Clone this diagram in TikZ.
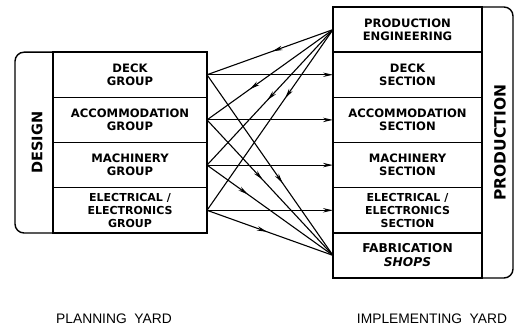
\documentclass[tikz,border=0pt]{standalone}
\usepackage{fontspec}
\setmainfont{DejaVu Sans}
\newfontfamily\yardfont{Liberation Sans}
\usetikzlibrary{arrows.meta,decorations.markings}
\begin{document}
\begin{tikzpicture}[x=1pt,y=-1pt,
  box/.style={line width=1.4pt},
  lcell/.style={draw, line width=1.4pt, minimum width=154pt, minimum height=45.17pt, inner sep=0pt, outer sep=0pt, align=center, font=\bfseries\fontsize{11.6}{13}\selectfont},
  rcell/.style={lcell, minimum width=149pt},
  conn/.style={line width=1.1pt},
  tip/.style={-{Stealth[length=10pt,width=4.4pt]}},
  midarrow/.style={postaction={decorate},decoration={markings,mark=at position #1 with {\arrow{Stealth[length=10pt,width=4.4pt]}}}},
  sidelabel/.style={font=\bfseries\fontsize{14.5}{16}\selectfont, rotate=90},
  yard/.style={font=\yardfont\fontsize{13.8}{15}\selectfont}
]
\useasboundingbox (0,0) rectangle (516,326);

% left outer box
\draw[box, rounded corners=9pt] (53,52.2) -- (15,52.2) -- (15,233) -- (53,233);
% right outer box
\draw[box, rounded corners=9pt] (482,7) -- (513,7) -- (513,278) -- (482,278);

% left cells
\node[lcell] (dg) at (130,74.75) {DECK\\GROUP};
\node[lcell] (ag) at (130,119.9) {ACCOMMODATION\\GROUP};
\node[lcell] (mg) at (130,165.1) {MACHINERY\\GROUP};
\node[lcell, font=\bfseries\fontsize{11}{12.8}\selectfont] (eg) at (130,210.3) {ELECTRICAL /\\ELECTRONICS\\GROUP};

% right cells
\node[rcell] (pe) at (407.5,29.6) {PRODUCTION\\ENGINEERING};
\node[rcell] (ds) at (407.5,74.75) {DECK\\SECTION};
\node[rcell] (as) at (407.5,119.9) {ACCOMMODATION\\SECTION};
\node[rcell] (ms) at (407.5,165.1) {MACHINERY\\SECTION};
\node[rcell, font=\bfseries\fontsize{11}{12.8}\selectfont] (es) at (407.5,210.3) {ELECTRICAL /\\ELECTRONICS\\SECTION};
\node[rcell, font=\bfseries\fontsize{12.2}{14}\selectfont] (fs) at (407.5,255.4) {FABRICATION\\\textit{SHOPS}};

% side labels
\node[sidelabel] (design) at (37,142.6) {DESIGN};
\node[sidelabel, font=\bfseries\fontsize{15.5}{17}\selectfont] (prod) at (500,142.6) {PRODUCTION};

% production engineering -> groups
\draw[conn, midarrow=0.48] (pe.west) -- (dg.east);
\draw[conn, midarrow=0.66] (pe.west) -- (ag.east);
\draw[conn, midarrow=0.52] (pe.west) -- (mg.east);
\draw[conn, midarrow=0.38] (pe.west) -- (eg.east);

% groups -> sections
\draw[conn, tip] (dg.east) -- (ds.west);
\draw[conn, tip] (ag.east) -- (as.west);
\draw[conn, tip] (mg.east) -- (ms.west);
\draw[conn, tip] (eg.east) -- (es.west);

% groups -> fabrication shops
\draw[conn, midarrow=0.6] (dg.east) -- (fs.west);
\draw[conn, midarrow=0.44] (ag.east) -- (fs.west);
\draw[conn, midarrow=0.325] (mg.east) -- (fs.west);
\draw[conn, midarrow=0.476] (eg.east) -- (fs.west);

% yard labels
\node[yard] (py) at (114,319) {PLANNING\ \ YARD};
\node[yard] (iy) at (432,319) {IMPLEMENTING\ \ YARD};
\end{tikzpicture}
\end{document}
